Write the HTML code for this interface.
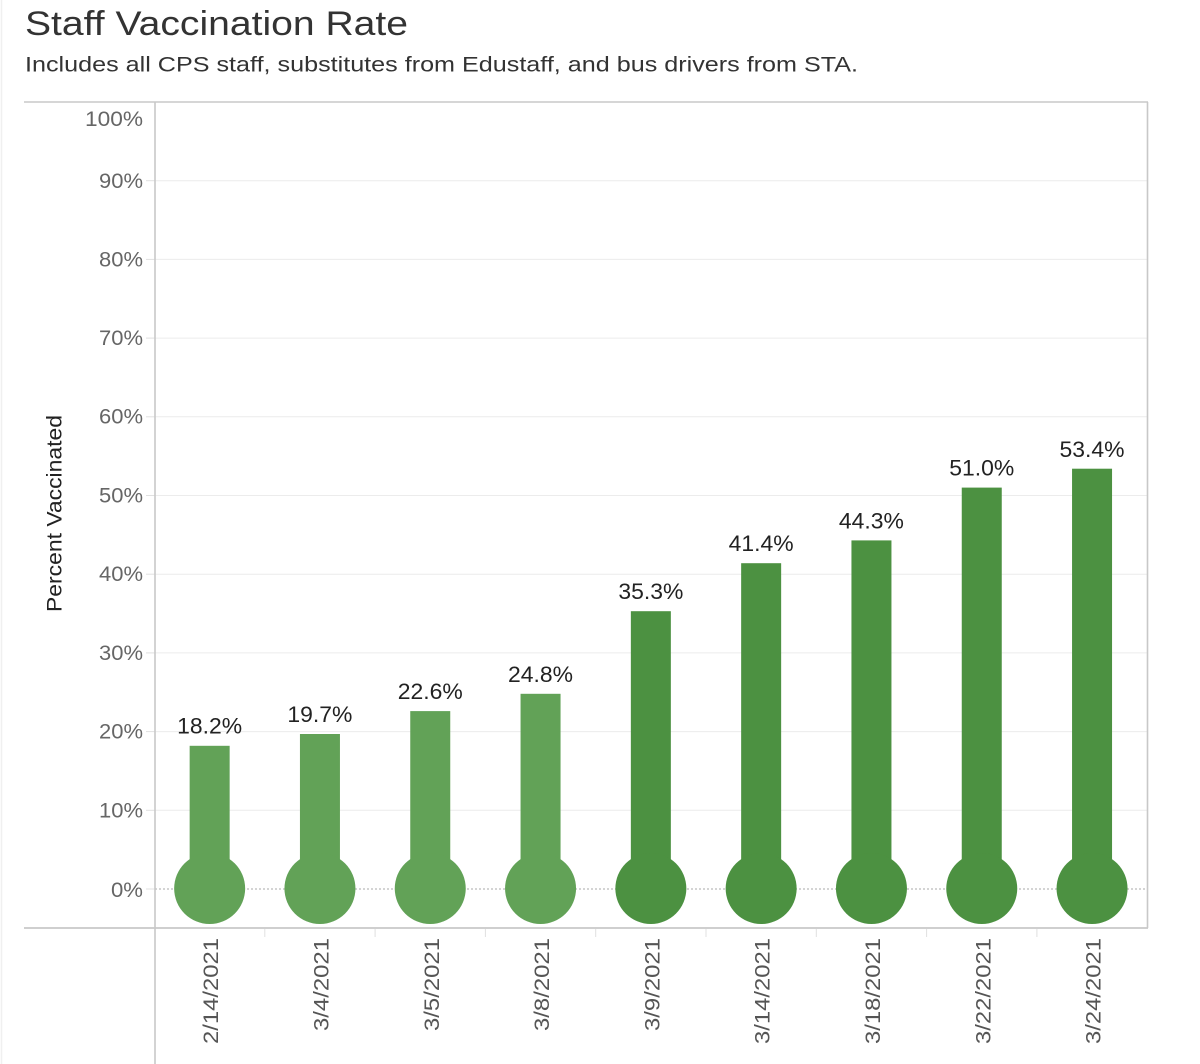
<!DOCTYPE html>
<html>
<head>
<meta charset="utf-8">
<style>
html,body{margin:0;padding:0;background:#fff;}
svg{display:block;}
text{font-family:"Liberation Sans",Arial,sans-serif;}
</style>
</head>
<body>
<svg width="1200" height="1064" viewBox="0 0 1200 1064" xmlns="http://www.w3.org/2000/svg">
<rect x="0" y="0" width="1200" height="1064" fill="#fff"/>
<line x1="1.5" y1="0" x2="1.5" y2="1064" stroke="#f0f0f0" stroke-width="1.5"/>

<!-- Title -->
<text x="25" y="35" font-size="34" fill="#333" textLength="383" lengthAdjust="spacingAndGlyphs">Staff Vaccination Rate</text>
<text x="25" y="71.5" font-size="21.5" fill="#333" textLength="833" lengthAdjust="spacingAndGlyphs">Includes all CPS staff, substitutes from Edustaff, and bus drivers from STA.</text>

<!-- gridlines -->
<g stroke="#ececec" stroke-width="1">
<line x1="155" y1="180.7" x2="1147" y2="180.7"/>
<line x1="155" y1="259.4" x2="1147" y2="259.4"/>
<line x1="155" y1="338.1" x2="1147" y2="338.1"/>
<line x1="155" y1="416.8" x2="1147" y2="416.8"/>
<line x1="155" y1="495.5" x2="1147" y2="495.5"/>
<line x1="155" y1="574.2" x2="1147" y2="574.2"/>
<line x1="155" y1="652.9" x2="1147" y2="652.9"/>
<line x1="155" y1="731.6" x2="1147" y2="731.6"/>
<line x1="155" y1="810.3" x2="1147" y2="810.3"/>
</g>
<!-- y ticks -->
<g stroke="#e0e0e0" stroke-width="1">
<line x1="146" y1="180.7" x2="155" y2="180.7"/>
<line x1="146" y1="259.4" x2="155" y2="259.4"/>
<line x1="146" y1="338.1" x2="155" y2="338.1"/>
<line x1="146" y1="416.8" x2="155" y2="416.8"/>
<line x1="146" y1="495.5" x2="155" y2="495.5"/>
<line x1="146" y1="574.2" x2="155" y2="574.2"/>
<line x1="146" y1="652.9" x2="155" y2="652.9"/>
<line x1="146" y1="731.6" x2="155" y2="731.6"/>
<line x1="146" y1="810.3" x2="155" y2="810.3"/>
<line x1="146" y1="889" x2="155" y2="889"/>
</g>
<!-- zero line dotted -->
<line x1="155" y1="889" x2="1147" y2="889" stroke="#aaa" stroke-width="1" stroke-dasharray="2,2"/>

<!-- frame -->
<line x1="24" y1="102" x2="1148" y2="102" stroke="#c8c8c8" stroke-width="1.6"/>
<line x1="1147.5" y1="102" x2="1147.5" y2="928" stroke="#c8c8c8" stroke-width="1.6"/>
<line x1="24" y1="928" x2="1148" y2="928" stroke="#c8c8c8" stroke-width="1.8"/>
<line x1="155" y1="102" x2="155" y2="1064" stroke="#c8c8c8" stroke-width="1.6"/>

<!-- bottom category ticks -->
<g stroke="#e0e0e0" stroke-width="1">
<line x1="264.8" y1="929" x2="264.8" y2="937"/>
<line x1="375.1" y1="929" x2="375.1" y2="937"/>
<line x1="485.4" y1="929" x2="485.4" y2="937"/>
<line x1="595.7" y1="929" x2="595.7" y2="937"/>
<line x1="706" y1="929" x2="706" y2="937"/>
<line x1="816.3" y1="929" x2="816.3" y2="937"/>
<line x1="926.6" y1="929" x2="926.6" y2="937"/>
<line x1="1036.9" y1="929" x2="1036.9" y2="937"/>
</g>

<!-- Y tick labels -->
<g font-size="21" fill="#666" text-anchor="end">
<text x="143" y="126" textLength="58" lengthAdjust="spacingAndGlyphs">100%</text>
<text x="143" y="188" textLength="44" lengthAdjust="spacingAndGlyphs">90%</text>
<text x="143" y="266.5" textLength="44" lengthAdjust="spacingAndGlyphs">80%</text>
<text x="143" y="345" textLength="44" lengthAdjust="spacingAndGlyphs">70%</text>
<text x="143" y="423.5" textLength="44" lengthAdjust="spacingAndGlyphs">60%</text>
<text x="143" y="502.5" textLength="44" lengthAdjust="spacingAndGlyphs">50%</text>
<text x="143" y="581" textLength="44" lengthAdjust="spacingAndGlyphs">40%</text>
<text x="143" y="660" textLength="44" lengthAdjust="spacingAndGlyphs">30%</text>
<text x="143" y="738.5" textLength="44" lengthAdjust="spacingAndGlyphs">20%</text>
<text x="143" y="817.5" textLength="44" lengthAdjust="spacingAndGlyphs">10%</text>
<text x="143" y="897" textLength="32" lengthAdjust="spacingAndGlyphs">0%</text>
</g>

<!-- Y axis title -->
<text transform="translate(61.5,513.5) rotate(-90)" text-anchor="middle" font-size="21" fill="#222" textLength="197" lengthAdjust="spacingAndGlyphs">Percent Vaccinated</text>

<!-- Bars (light) -->
<g fill="#62a257">
<rect x="189.65" y="745.8" width="40" height="143"/>
<circle cx="209.65" cy="888.5" r="35.5"/>
<rect x="299.95" y="734" width="40" height="155"/>
<circle cx="319.95" cy="888.5" r="35.5"/>
<rect x="410.25" y="711.1" width="40" height="178"/>
<circle cx="430.25" cy="888.5" r="35.5"/>
<rect x="520.55" y="693.8" width="40" height="195"/>
<circle cx="540.55" cy="888.5" r="35.5"/>
</g>
<!-- Bars (dark) -->
<g fill="#4c9141">
<rect x="630.85" y="611.2" width="40" height="278"/>
<circle cx="650.85" cy="888.5" r="35.5"/>
<rect x="741.15" y="563.2" width="40" height="326"/>
<circle cx="761.15" cy="888.5" r="35.5"/>
<rect x="851.45" y="540.4" width="40" height="349"/>
<circle cx="871.45" cy="888.5" r="35.5"/>
<rect x="961.75" y="487.6" width="40" height="401"/>
<circle cx="981.75" cy="888.5" r="35.5"/>
<rect x="1072.05" y="468.7" width="40" height="420"/>
<circle cx="1092.05" cy="888.5" r="35.5"/>
</g>

<!-- Value labels -->
<g font-size="22" fill="#222" text-anchor="middle">
<text x="209.65" y="733.5" textLength="65" lengthAdjust="spacingAndGlyphs">18.2%</text>
<text x="319.95" y="722" textLength="65" lengthAdjust="spacingAndGlyphs">19.7%</text>
<text x="430.25" y="699" textLength="65" lengthAdjust="spacingAndGlyphs">22.6%</text>
<text x="540.55" y="682" textLength="65" lengthAdjust="spacingAndGlyphs">24.8%</text>
<text x="650.85" y="599" textLength="65" lengthAdjust="spacingAndGlyphs">35.3%</text>
<text x="761.15" y="551" textLength="65" lengthAdjust="spacingAndGlyphs">41.4%</text>
<text x="871.45" y="528.5" textLength="65" lengthAdjust="spacingAndGlyphs">44.3%</text>
<text x="981.75" y="475.5" textLength="65" lengthAdjust="spacingAndGlyphs">51.0%</text>
<text x="1092.05" y="457" textLength="65" lengthAdjust="spacingAndGlyphs">53.4%</text>
</g>

<!-- Date labels -->
<g font-size="21" fill="#555" text-anchor="end">
<text transform="translate(218.15,938) rotate(-90)" textLength="106" lengthAdjust="spacingAndGlyphs">2/14/2021</text>
<text transform="translate(328.45,938) rotate(-90)" textLength="93" lengthAdjust="spacingAndGlyphs">3/4/2021</text>
<text transform="translate(438.75,938) rotate(-90)" textLength="93" lengthAdjust="spacingAndGlyphs">3/5/2021</text>
<text transform="translate(549.05,938) rotate(-90)" textLength="93" lengthAdjust="spacingAndGlyphs">3/8/2021</text>
<text transform="translate(659.35,938) rotate(-90)" textLength="93" lengthAdjust="spacingAndGlyphs">3/9/2021</text>
<text transform="translate(769.65,938) rotate(-90)" textLength="106" lengthAdjust="spacingAndGlyphs">3/14/2021</text>
<text transform="translate(879.95,938) rotate(-90)" textLength="106" lengthAdjust="spacingAndGlyphs">3/18/2021</text>
<text transform="translate(990.25,938) rotate(-90)" textLength="106" lengthAdjust="spacingAndGlyphs">3/22/2021</text>
<text transform="translate(1100.55,938) rotate(-90)" textLength="106" lengthAdjust="spacingAndGlyphs">3/24/2021</text>
</g>
</svg>
</body>
</html>
